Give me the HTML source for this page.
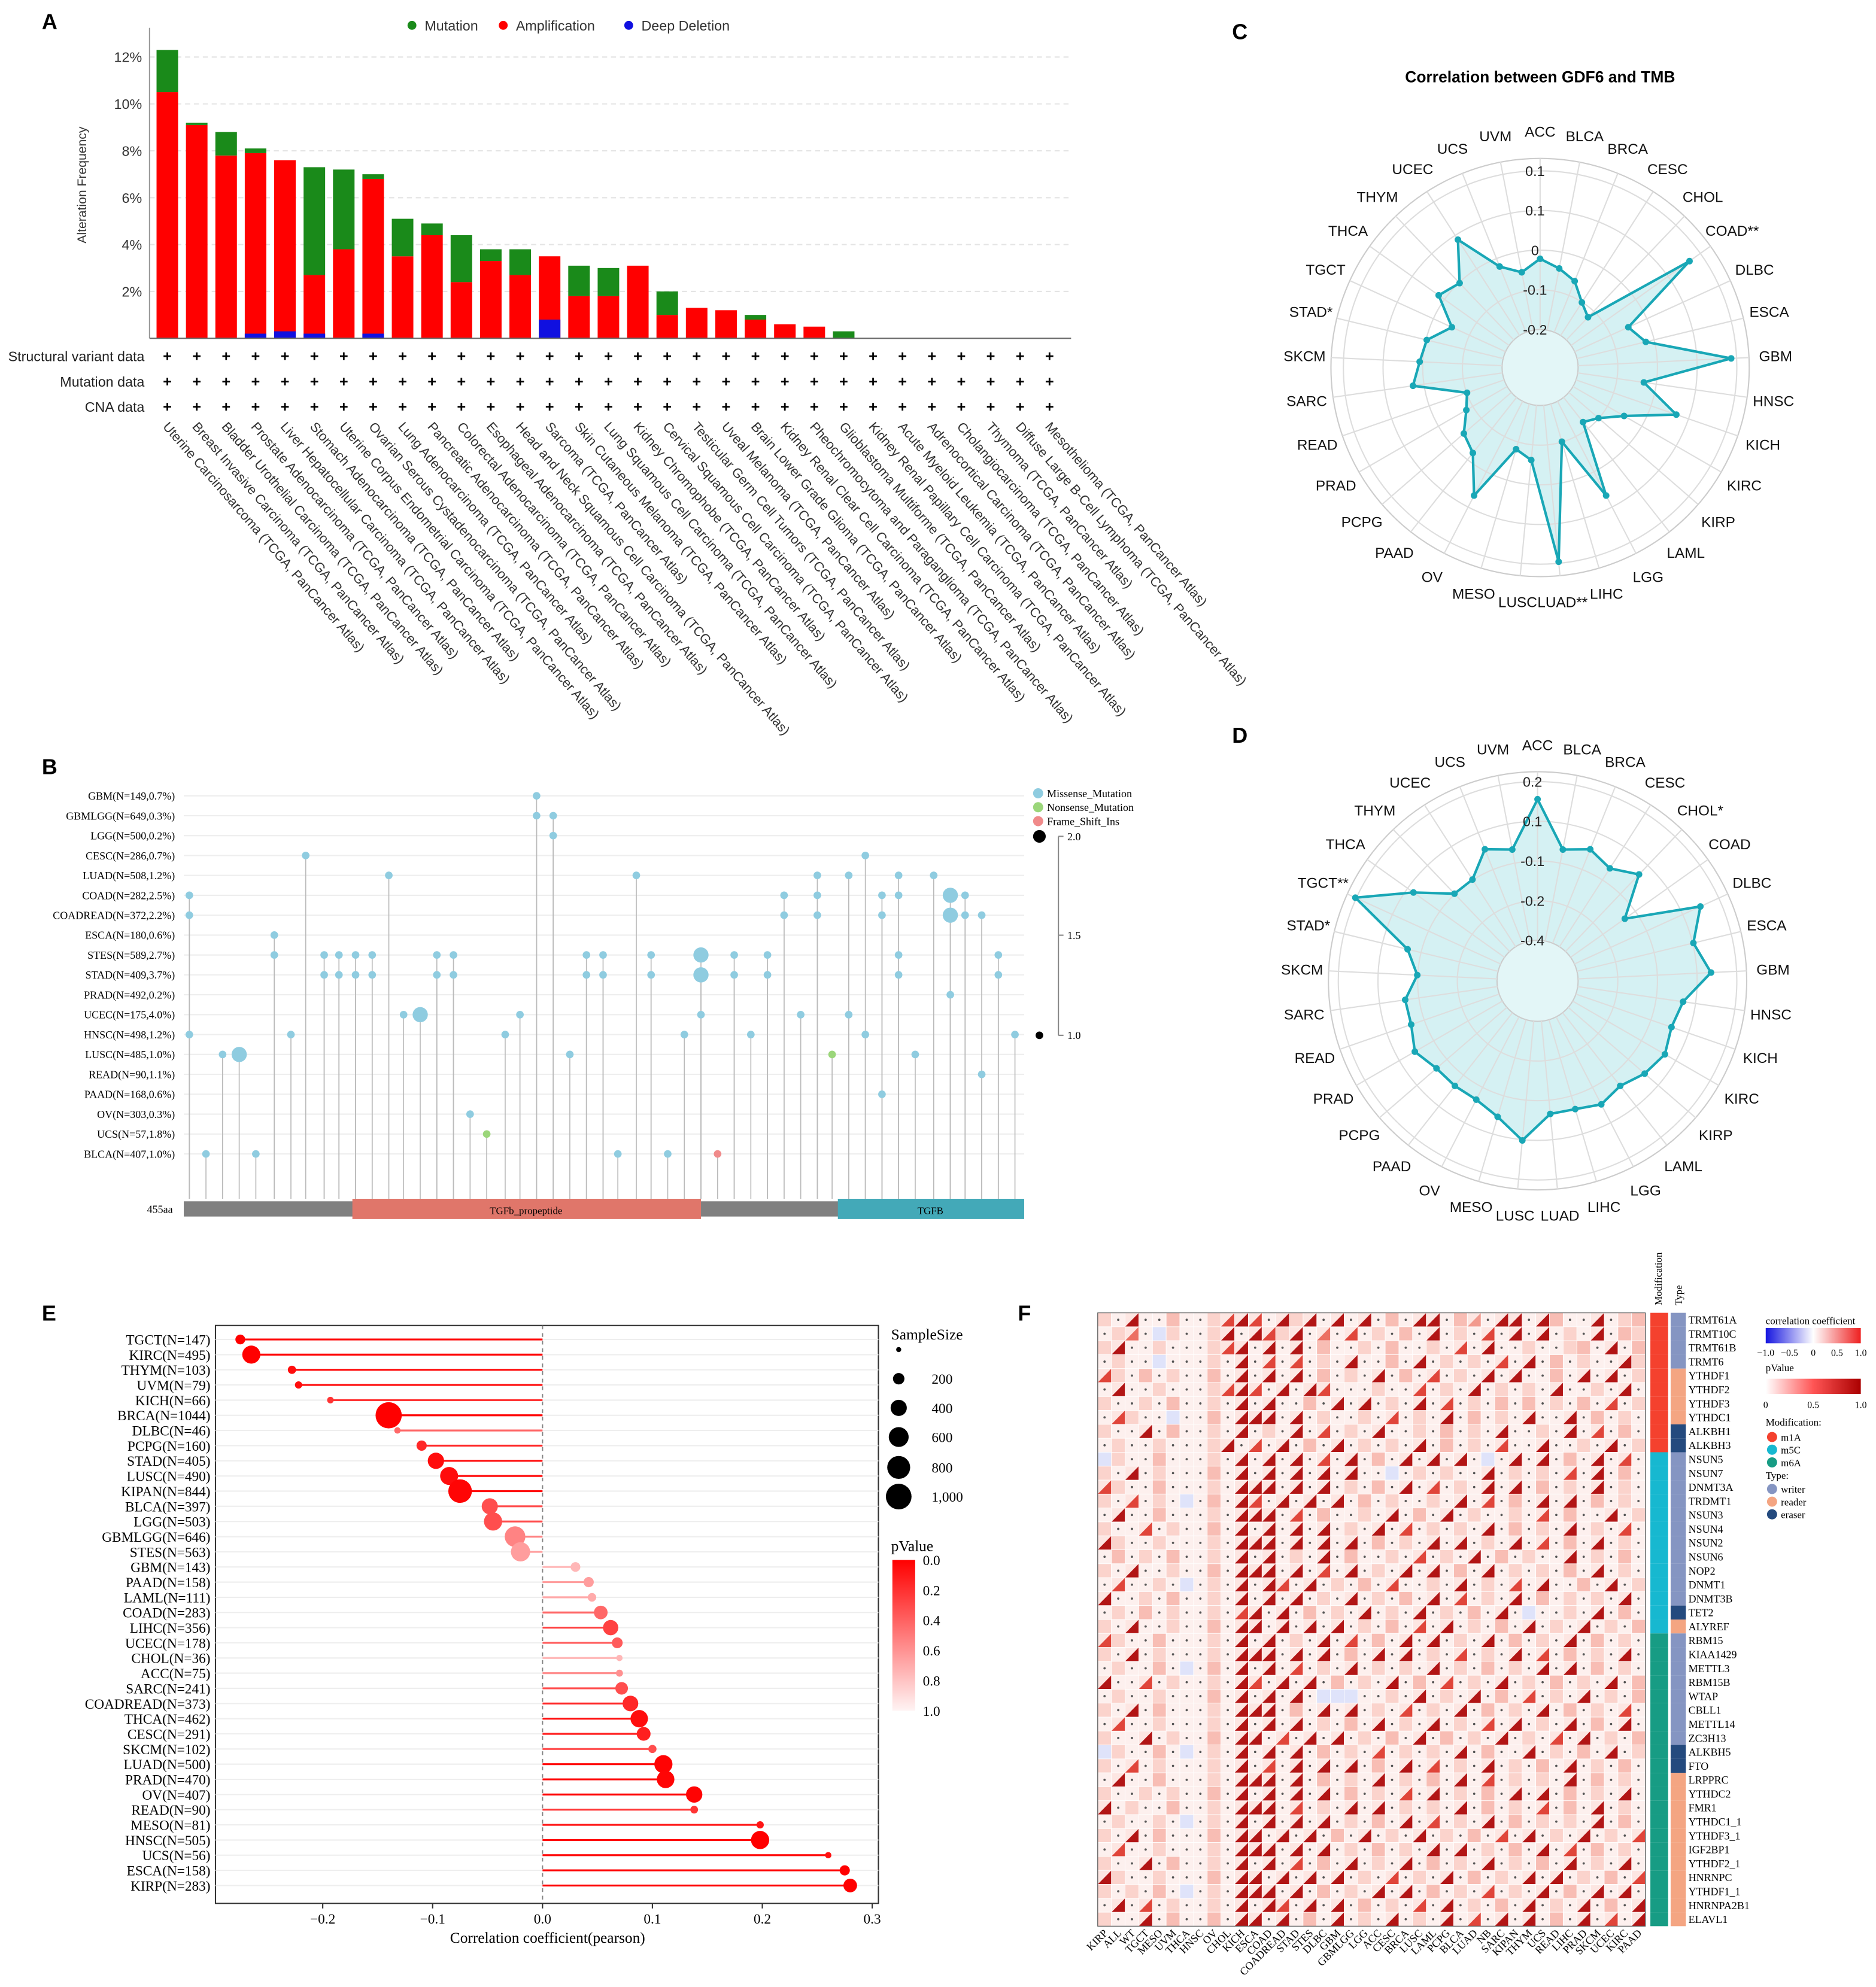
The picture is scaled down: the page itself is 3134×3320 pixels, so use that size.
<!DOCTYPE html>
<html><head><meta charset="utf-8"><style>
html,body{margin:0;padding:0;background:#fff}
svg{display:block}
text{font-family:"Liberation Sans",sans-serif}
.serif{font-family:"Liberation Serif",serif}
</style></head><body>
<svg id="fig" xmlns="http://www.w3.org/2000/svg" width="3134" height="3320" viewBox="0 0 1480 1568" preserveAspectRatio="none">
<g font-weight="bold" font-size="17">
<text x="33" y="23">A</text>
<text x="33" y="611">B</text>
<text x="972" y="31">C</text>
<text x="972" y="586">D</text>
<text x="33" y="1042">E</text>
<text x="803" y="1042">F</text>
</g>
<g id="A"></g><g id="B"></g><g id="C"></g><g id="D"></g><g id="E"></g><g id="F"></g>
</svg>
<script>
// ---------- Panel A data ----------
const aCats=["Uterine Carcinosarcoma","Breast Invasive Carcinoma","Bladder Urothelial Carcinoma","Prostate Adenocarcinoma","Liver Hepatocellular Carcinoma","Stomach Adenocarcinoma","Uterine Corpus Endometrial Carcinoma","Ovarian Serous Cystadenocarcinoma","Lung Adenocarcinoma","Pancreatic Adenocarcinoma","Colorectal Adenocarcinoma","Esophageal Adenocarcinoma","Head and Neck Squamous Cell Carcinoma","Sarcoma","Skin Cutaneous Melanoma","Lung Squamous Cell Carcinoma","Kidney Chromophobe","Cervical Squamous Cell Carcinoma","Testicular Germ Cell Tumors","Uveal Melanoma","Brain Lower Grade Glioma","Kidney Renal Clear Cell Carcinoma","Pheochromocytoma and Paraganglioma","Glioblastoma Multiforme","Kidney Renal Papillary Cell Carcinoma","Acute Myeloid Leukemia","Adrenocortical Carcinoma","Cholangiocarcinoma","Thymoma","Diffuse Large B-Cell Lymphoma","Mesothelioma"];
const aAmp=[10.5,9.1,7.8,7.9,7.6,2.7,3.8,6.8,3.5,4.4,2.4,3.3,2.7,3.5,1.8,1.8,3.1,1.0,1.3,1.2,0.8,0.6,0.5,0,0,0,0,0,0,0,0];
const aMut=[1.8,0.1,1.0,0.2,0,4.6,3.4,0.2,1.6,0.5,2.0,0.5,1.1,0,1.3,1.2,0,1.0,0,0,0.2,0,0,0.3,0,0,0,0,0,0,0];
const aDel=[0,0,0,0.2,0.3,0.2,0,0.2,0,0,0,0,0,0.8,0,0,0,0,0,0,0,0,0,0,0,0,0,0,0,0,0];
const aTicks=[2,4,6,8,10,12];
// ---------- Panel B data ----------
const bRows=["GBM(N=149,0.7%)","GBMLGG(N=649,0.3%)","LGG(N=500,0.2%)","CESC(N=286,0.7%)","LUAD(N=508,1.2%)","COAD(N=282,2.5%)","COADREAD(N=372,2.2%)","ESCA(N=180,0.6%)","STES(N=589,2.7%)","STAD(N=409,3.7%)","PRAD(N=492,0.2%)","UCEC(N=175,4.0%)","HNSC(N=498,1.2%)","LUSC(N=485,1.0%)","READ(N=90,1.1%)","PAAD(N=168,0.6%)","OV(N=303,0.3%)","UCS(N=57,1.8%)","BLCA(N=407,1.0%)"];
const bRowIdx=[0, 1,1, 2, 3,3, 4,4,4,4,4,4, 5,5,5,5,5,5,5, 6,6,6,6,6,6,6, 7,
 8,8,8,8,8,8,8,8,8,8,8,8,8,8,8, 9,9,9,9,9,9,9,9,9,9,9,9,9,9, 10, 11,11,11,11,11,11, 12,12,12,12,12,12,12, 13,13,13,13,13, 14, 15, 16, 17, 18,18,18,18,18];
const bAA=[191, 191,200, 200, 66,369, 111,245,343,360,387,406, 3,325,343,378,387,415,423, 3,325,343,378,415,423,432, 49,
 49,76,84,93,102,137,146,218,227,253,280,298,316,387,441, 76,84,93,102,137,146,218,227,253,280,298,316,387,441, 415, 119,128,182,280,334,360, 3,58,174,271,307,369,450, 21,30,209,351,396, 432, 378, 155, 164, 12,39,235,262,289];
const bCount=[1, 1,1, 1, 1,1, 1,1,1,1,1,1, 1,1,1,1,1,2,1, 1,1,1,1,2,1,1, 1,
 1,1,1,1,1,1,1,1,1,1,2,1,1,1,1, 1,1,1,1,1,1,1,1,1,2,1,1,1,1, 1, 1,2,1,1,1,1, 1,1,1,1,1,1,1, 1,2,1,1,1, 1, 1, 1, 1, 1,1,1,1,1];
const bType=["M", "M","M", "M", "M","M", "M","M","M","M","M","M", "M","M","M","M","M","M","M", "M","M","M","M","M","M","M", "M",
 "M","M","M","M","M","M","M","M","M","M","M","M","M","M","M", "M","M","M","M","M","M","M","M","M","M","M","M","M","M", "M", "M","M","M","M","M","M", "M","M","M","M","M","M","M", "M","M","M","N","M", "M", "M", "M", "N", "M","M","M","M","F"];
// ---------- Panel C / D data ----------
const cCats=["ACC","BLCA","BRCA","CESC","CHOL","COAD**","DLBC","ESCA","GBM","HNSC","KICH","KIRC","KIRP","LAML","LGG","LIHC","LUAD**","LUSC","MESO","OV","PAAD","PCPG","PRAD","READ","SARC","SKCM","STAD*","TGCT","THCA","THYM","UCEC","UCS","UVM"];
const cVals=[-0.02,-0.04,-0.06,-0.1,-0.12,0.17,-0.05,-0.02,0.19,-0.03,0.07,-0.05,-0.1,-0.12,0.07,-0.1,0.2,-0.06,-0.08,0.07,-0.02,-0.04,-0.08,-0.1,0.03,0.01,0.0,-0.05,0.02,0.0,0.09,-0.02,-0.05];
const cTicks=["-0.2","-0.1","0","0.1","0.1"];
const dCats=["ACC","BLCA","BRCA","CESC","CHOL*","COAD","DLBC","ESCA","GBM","HNSC","KICH","KIRC","KIRP","LAML","LGG","LIHC","LUAD","LUSC","MESO","OV","PAAD","PCPG","PRAD","READ","SARC","SKCM","STAD*","TGCT**","THCA","THYM","UCEC","UCS","UVM"];
const dVals=[0.13,-0.05,-0.02,-0.05,0.0,-0.15,0.12,0.05,0.1,0.0,-0.02,0.0,-0.02,-0.05,-0.03,-0.05,-0.05,0.05,-0.02,-0.05,-0.05,-0.05,-0.02,-0.05,-0.05,-0.1,-0.05,0.2,0.02,-0.1,-0.1,-0.02,-0.05];
const dTicks=["-0.4","-0.2","-0.1","0.1","0.2"];
// ---------- Panel E data ----------
const eCats=["TGCT","KIRC","THYM","UVM","KICH","BRCA","DLBC","PCPG","STAD","LUSC","KIPAN","BLCA","LGG","GBMLGG","STES","GBM","PAAD","LAML","COAD","LIHC","UCEC","CHOL","ACC","SARC","COADREAD","THCA","CESC","SKCM","LUAD","PRAD","OV","READ","MESO","HNSC","UCS","ESCA","KIRP"];
const eN=[147,495,103,79,66,1044,46,160,405,490,844,397,503,646,563,143,158,111,283,356,178,36,75,241,373,462,291,102,500,470,407,90,81,505,56,158,283];
const eR=[-0.275,-0.265,-0.228,-0.222,-0.193,-0.14,-0.132,-0.11,-0.097,-0.085,-0.075,-0.048,-0.045,-0.025,-0.02,0.03,0.042,0.045,0.053,0.062,0.068,0.07,0.07,0.072,0.08,0.088,0.092,0.1,0.11,0.112,0.138,0.138,0.198,0.198,0.26,0.275,0.28];
const eP=[0,0,0.05,0.05,0.2,0,0.4,0.15,0.05,0.05,0.02,0.3,0.3,0.5,0.6,0.7,0.6,0.65,0.4,0.25,0.35,0.7,0.55,0.3,0.15,0.05,0.12,0.3,0.01,0.02,0.01,0.2,0.08,0,0.06,0,0];
const eTicks=[-0.2,-0.1,0,0.1,0.2,0.3];
// ---------- Panel F data ----------
const fCols=["KIRP","ALL","WT","TGCT","MESO","UVM","THCA","HNSC","OV","CHOL","KICH","ESCA","COAD","COADREAD","STAD","STES","DLBC","GBM","GBMLGG","LGG","ACC","CESC","BRCA","LUSC","LAML","PCPG","BLCA","LUAD","NB","SARC","KIPAN","THYM","UCS","READ","LIHC","PRAD","SKCM","UCEC","KIRC","PAAD"];
const fRows=["TRMT61A","TRMT10C","TRMT61B","TRMT6","YTHDF1","YTHDF2","YTHDF3","YTHDC1","ALKBH1","ALKBH3","NSUN5","NSUN7","DNMT3A","TRDMT1","NSUN3","NSUN4","NSUN2","NSUN6","NOP2","DNMT1","DNMT3B","TET2","ALYREF","RBM15","KIAA1429","METTL3","RBM15B","WTAP","CBLL1","METTL14","ZC3H13","ALKBH5","FTO","LRPPRC","YTHDC2","FMR1","YTHDC1_1","YTHDF3_1","IGF2BP1","YTHDF2_1","HNRNPC","YTHDF1_1","HNRNPA2B1","ELAVL1"];
const fMod=[0,0,0,0,0,0,0,0,0,0,1,1,1,1,1,1,1,1,1,1,1,1,1,2,2,2,2,2,2,2,2,2,2,2,2,2,2,2,2,2,2,2,2,2];
const fType=[0,0,0,0,1,1,1,1,2,2,0,0,0,0,0,0,0,0,0,0,0,2,1,0,0,0,0,0,0,0,0,2,2,1,1,1,1,1,1,1,1,1,1,1];
const fData=[
"1.9..2..1797.919.9.9.2.99.25.99.92..9.12",
".16.b1..19.9719.6.7.1.2.9.1.7.9.9.1.9.21",
"19..1...179.9.9.2..1.2..1.7.9..1..12.9.2",
".1..b...1.9.7.7.1.9..2.9.1.1.7.9.2.1..91",
"71.2.1..2.9.9.9.2.1.9.2.7.1.9.9..2.9.9.1",
".9..1...1797.9.97...1..7.1.9.1.1.9..1.9.",
"1..1.2..1.9.9..2.9.9.1.9.7.1.2.2.1.2.7.1",
".71..b..2.999.9.1..1.7.1.9.2.1.9..9.2.1.",
"1..9.2..1.9.1.9.7.1.9..1.2.1.9..1.9.7.2.",
".1..1...19.7.9.2.9.1.1.9.2.1.7..9..1.9.1",
"b1..2...1.9.9.9.7.9.2.9.9.9.b.9.9.2.9.7.",
"1.9.1...2.9.9.9.9.9..b.1.1..9.1.1.7.9.2.",
"71..2...1.999.9.9.1.2.9.7.1.9.9.2.1.9.1.",
"1.7.1.b.2.97.9.9.9.2.1..1.9.7.2.9.9.2.1.",
".9..2...1.999.7.2..1.9.2.9.1..1.7.2..9.1",
"1..7.1..2.9.9.9.9.1.9.7.1.1.9.2.1.9.1.7.",
"91..1...1.999.9.9.9.2.1.9.9.1.9.7.2.9.1.",
".2.1.2..1.9.9.1.9.2..1.7.1.9.2.1..9.1.2.",
"1.9..1..2.999.9.7.9.1.9.9.2.9.1.1.2.9.1.",
".7..1.b.1.9.97.9.1.2.7..1.9.1.7.9..2.9.1",
"9..1.2..1.9.9.9.1.9.1.2.9.7.1.9.2.1.1.9.",
".1.2.1..1.79.9.2.1.9.1.9.1.2.9.b..1.9.2.",
"1.9..1..2.99.9.9.9.1.2.7.9.1.2.9.1.9.1.2",
"71..2...1.9.9.1.9.7.2.9.9.1.9.2.1.9.2.1.",
"1.9.1...1.999.9.9.2.9.9.1.7.1.9.7.2.1.9.",
".1..2.b.2.9.9.7.1.9.1.1.9.1.2.1.9.9.2.1.",
"9..7.1..1.97.9.9.2.1.9.2.7.1.9.1.2.1.9.2",
".1..1...2.9.9.9.bbb..1.9.1.9.2.7.1.9.1.2",
"1.9.2...1.999.2.9.9.1.7.1.9.2.1.9.2.1.7.",
".7..1...1.9.9.9.1.2.9.1.9.1.7.9.1.9.2.9.",
"1..9.1..2.99.7.9.9.1.2.9.2.1.9.1.7.9.1.2",
"b1..2.b.1.9.9.9.2.1.7.1.1.9.2..9.1.2.9.1",
"1.7.1...1.9.7.9.9.9.2.9.7.1.9.1.2.9.1.2.",
".9..2...1.999.9.2.1.9.1.2.9.7.1.1.9.2.1.",
"1..1.1..2.9.9.9.9.2.1.7.9.1.2.9.9.2.1.9.",
"9.1..2..1.999.7.1.9.9.1.1.9.2.1.7.2.9.1.",
".1..1.b.1.9.9.9.9.1.2.9.7.1.9.2.1.1.9.2.",
"1.9.2...2.99.9.9.2.9.1.9.1.2.7.9.1.9.1.7",
".7..1...1.999.9.9.1.2.1.9.9.1.2.9.7.2.1.",
"1..9.2..1.9.9.7.2.9.1.9.2.1.9.1.2.9.1.9.",
"91..1...2.99.9.9.9.1.7.1.9.2.1.9.9.1.2.7",
"1.1.2.b.1.999.9.2.1.9.9.2.1.7.1.9.2.9.9.",
".9.7.1..1.9.97.9.9.2.1.7.9.1.2.9.1.9.2.9",
"1..9.2..2.99.9.2.9.1.9.1.9.7.9.9.2.9.7.9"];
</script>
<script>
const NS="http://www.w3.org/2000/svg";
function mk(parent,tag,attrs,txt){const e=document.createElementNS(NS,tag);for(const k in attrs)e.setAttribute(k,attrs[k]);if(txt!==undefined)e.textContent=txt;parent.appendChild(e);return e;}
// ================= A =================
(function(){
const g=document.getElementById('A');
const x0=118,x1=845,base=267;
const xA=i=>132+i*23.2, yA=v=>base-v*18.5;
let t;
aTicks.forEach(v=>{
 const l=mk(g,'line',{x1:x0,x2:x1,y1:yA(v),y2:yA(v),stroke:'#e4e4e4','stroke-dasharray':'4,3'});
 
 t=mk(g,'text',{x:x0-6,y:yA(v)+4,'font-size':11,'text-anchor':'end',fill:'#333'},v+'%');
 
});
t=mk(g,'text',{x:68,y:146,'font-size':10,'text-anchor':'middle',fill:'#333',transform:'rotate(-90 68 146)'},'Alteration Frequency');

aCats.forEach((c,i)=>{
 const cx=xA(i),w=17;
 let r=mk(g,'rect',{x:cx-w/2,y:yA(aAmp[i]),width:w,height:aAmp[i]*18.5,fill:'#ff0000'});
 
 r=mk(g,'rect',{x:cx-w/2,y:yA(aAmp[i]+aMut[i]),width:w,height:aMut[i]*18.5,fill:'#1a8a1a'});
 
 r=mk(g,'rect',{x:cx-w/2,y:yA(aDel[i]),width:w,height:aDel[i]*18.5,fill:'#1010e0'});
 
 [281,301,321].forEach(y=>{t=mk(g,'text',{x:cx,y:y+4,'font-size':12,'font-weight':'bold','text-anchor':'middle'},'+');
  });
 t=mk(g,'text',{x:cx-4,y:337,'font-size':10.5,fill:'#333',transform:`rotate(49 ${cx-4} 337)`},c+' (TCGA, PanCancer Atlas)');
 
});
let l=mk(g,'line',{x1:x0,x2:x0,y1:22,y2:base,stroke:'#999'});
l=mk(g,'line',{x1:x0,x2:x1,y1:base,y2:base,stroke:'#666'});
[['Structural variant data',281],['Mutation data',301],['CNA data',321]].forEach(([s,y])=>{t=mk(g,'text',{x:114,y:y+4,'font-size':11,'text-anchor':'end',fill:'#222'},s);});
[['Mutation','#1a8a1a',325],['Amplification','#ff0000',397],['Deep Deletion','#1010e0',496]].forEach(([s,c,x])=>{
 const gg=mk(g,'g',{});
 mk(gg,'circle',{cx:x,cy:20,r:3.5,fill:c});mk(gg,'text',{x:x+10,y:24,'font-size':11,fill:'#333'},s);});
})();
// ================= B =================
(function(){
const g=document.getElementById('B');
const xB=aa=>145+aa*(663/455), yB=i=>628+i*15.7;
let t,l;
bRows.forEach((s,i)=>{
 l=mk(g,'line',{x1:145,x2:808,y1:yB(i),y2:yB(i),stroke:'#eee'});
 t=mk(g,'text',{x:138,y:yB(i)+3,'font-size':8.5,'text-anchor':'end',class:'serif'},s);
});
const col={M:'#8fcce0',N:'#9bd67a',F:'#f08a8a'};
bAA.forEach((aa,k)=>{
 const x=xB(aa),y=yB(bRowIdx[k]);
 l=mk(g,'path',{d:`M${x},${y} L${x},926 L${x},946`,stroke:'#bbb','stroke-width':0.8,fill:'none'});
 const c=mk(g,'circle',{cx:x,cy:y,r:bCount[k]>1?6:3,fill:col[bType[k]]});
});
let r=mk(g,'rect',{x:145,y:948,width:663,height:12,fill:'#808080'});
r=mk(g,'rect',{x:278,y:946,width:275,height:16,fill:'#e0766a'});
r=mk(g,'rect',{x:661,y:946,width:147,height:16,fill:'#43a9b8'});
t=mk(g,'text',{x:415,y:958,'font-size':8,'text-anchor':'middle',class:'serif'},'TGFb_propeptide');
t=mk(g,'text',{x:734,y:958,'font-size':8,'text-anchor':'middle',class:'serif'},'TGFB');
t=mk(g,'text',{x:116,y:957,'font-size':8.5,class:'serif'},'455aa');
[['Missense_Mutation','#8fcce0',626],['Nonsense_Mutation','#9bd67a',637],['Frame_Shift_Ins','#f08a8a',648]].forEach(([s,c,y])=>{
 const gg=mk(g,'g',{});
 mk(gg,'circle',{cx:819,cy:y,r:4,fill:c});mk(gg,'text',{x:826,y:y+3,'font-size':8.5,class:'serif'},s);});
l=mk(g,'line',{x1:835,x2:835,y1:660,y2:817,stroke:'#888'});
[['2.0',660,5],['1.5',738,0],['1.0',817,3]].forEach(([s,y,rr])=>{
 if(rr){const c=mk(g,'circle',{cx:820,cy:y,r:rr,fill:'#000'});}
 mk(g,'line',{x1:835,x2:839,y1:y,y2:y,stroke:'#888'});
 t=mk(g,'text',{x:842,y:y+3,'font-size':8.5,class:'serif'},s);});
})();
// ================= C & D =================
function radar(gid,cx,cy,cats,vals,ticks,r0,scale,vmin,title){
 const g=document.getElementById(gid);
 const n=cats.length, R=165;
 const rv=v=>r0+(v-vmin)*scale;
 const ang=i=>-Math.PI/2+i*2*Math.PI/n;
 let t,l;
 let c=mk(g,'circle',{cx,cy,r:R,fill:'#fff',stroke:'#ccc'});
 const pts=vals.map((v,i)=>[cx+rv(v)*Math.cos(ang(i)),cy+rv(v)*Math.sin(ang(i))]);
 const p=mk(g,'polygon',{points:pts.map(q=>q.join(',')).join(' '),fill:'#d5f1f3',stroke:'none'});
 c=mk(g,'circle',{cx,cy,r:r0,fill:'#e3f6f7',stroke:'#ccc'});
 for(let k=1;k<ticks.length;k++){c=mk(g,'circle',{cx,cy,r:r0+k*31.3,fill:'none',stroke:'#ddd'});}
 cats.forEach((s,i)=>{
  const a=ang(i);
  l=mk(g,'line',{x1:cx+r0*Math.cos(a),y1:cy+r0*Math.sin(a),x2:cx+R*Math.cos(a),y2:cy+R*Math.sin(a),stroke:'#ddd'});
  t=mk(g,'text',{x:cx+186*Math.cos(a),y:cy+186*Math.sin(a)+4,'font-size':11.5,'text-anchor':'middle',fill:'#111'},s);
 });
 const pl=mk(g,'polygon',{points:pts.map(q=>q.join(',')).join(' '),fill:'none',stroke:'#19a7b6','stroke-width':2});
 pts.forEach(q=>{c=mk(g,'circle',{cx:q[0],cy:q[1],r:2.6,fill:'#19a7b6'});});
 ticks.forEach((s,k)=>{t=mk(g,'text',{x:cx-4,y:cy-(r0+k*31.3)+4,'font-size':11,'text-anchor':'middle',fill:'#222'},s);});
 if(title){t=mk(g,'text',{x:cx,y:65,'font-size':12.5,'font-weight':'bold','text-anchor':'middle'},title);}
}
radar('C',1215,290,cCats,cVals,cTicks,30,310,-0.2,'Correlation between GDF6 and TMB');
radar('D',1213,774,dCats,dVals,dTicks,32,210,-0.4,null);
// ================= E =================
(function(){
const g=document.getElementById('E');
const xE=v=>428+v*867, yE=i=>1057+i*11.97;
let t,l;
let r=mk(g,'rect',{x:170,y:1046,width:523,height:456,fill:'none',stroke:'#333'});
const pc=p=>{const k=Math.min(1,p/0.9);const gb=Math.round(0+k*235);return `rgb(255,${gb},${gb})`;};
eCats.forEach((s,i)=>{
 const y=yE(i);
 l=mk(g,'line',{x1:170,x2:693,y1:y,y2:y,stroke:'#eee'});
 l=mk(g,'line',{x1:xE(0),x2:xE(eR[i]),y1:y,y2:y,stroke:pc(eP[i]),'stroke-width':1.5});
 const c=mk(g,'circle',{cx:xE(eR[i]),cy:y,r:Math.max(2.5,0.32*Math.sqrt(eN[i])),fill:pc(eP[i])});
 t=mk(g,'text',{x:166,y:y+4,'font-size':11,'text-anchor':'end',class:'serif'},`${s}(N=${eN[i]})`);
});
l=mk(g,'line',{x1:xE(0),x2:xE(0),y1:1046,y2:1502,stroke:'#888','stroke-dasharray':'3,3'});
eTicks.forEach(v=>{mk(g,'line',{x1:xE(v),x2:xE(v),y1:1502,y2:1506,stroke:'#333'});
 t=mk(g,'text',{x:xE(v),y:1518,'font-size':11,'text-anchor':'middle',class:'serif'},v===0?'0.0':String(v).replace('-','−'));});
t=mk(g,'text',{x:432,y:1533,'font-size':12,'text-anchor':'middle',class:'serif'},'Correlation coefficient(pearson)');
t=mk(g,'text',{x:703,y:1057,'font-size':12,class:'serif'},'SampleSize');
[[0,1065],[200,1088],[400,1111],[600,1134],[800,1158],[1000,1181]].forEach(([n,y])=>{
 const c=mk(g,'circle',{cx:709,cy:y,r:Math.max(2,0.32*Math.sqrt(n)),fill:'#000'});
 if(n){t=mk(g,'text',{x:735,y:y+4,'font-size':11,class:'serif'},n===1000?'1,000':n);}});
t=mk(g,'text',{x:703,y:1224,'font-size':12,class:'serif'},'pValue');
const defs=mk(g,'defs',{});const lg=mk(defs,'linearGradient',{id:'pg',x1:0,y1:0,x2:0,y2:1});
mk(lg,'stop',{offset:0,'stop-color':'#ff0000'});mk(lg,'stop',{offset:1,'stop-color':'#fff4f4'});
r=mk(g,'rect',{x:704,y:1231,width:18,height:119,fill:'url(#pg)'});
['0.0','0.2','0.4','0.6','0.8','1.0'].forEach((s,k)=>{t=mk(g,'text',{x:728,y:1235+k*23.8,'font-size':11,class:'serif'},s);});
})();
// ================= F =================
(function(){
const g=document.getElementById('F');
const x0=866,y0=1036,cw=10.8,ch=11;
let t,r;
r=mk(g,'rect',{x:x0,y:y0,width:fCols.length*cw,height:fRows.length*ch,fill:'#fde9e6'});
const shade={'5':'#f29a8e','6':'#ec6f62','7':'#e0453a','8':'#c81e1e','9':'#b21515'};
fRows.forEach((rn,i)=>{
 const s=(fData[i]+'.'.repeat(40)).slice(0,40);
 for(let j=0;j<40;j++){
  const ch_=s[j],x=x0+j*cw,y=y0+i*ch;
  let fill='#fde6e2';
  if(ch_==='1')fill='#fbd3cc';if(ch_==='2')fill='#f8bdb4';if(ch_==='b')fill='#dfe3fa';
  if(ch_==='.')fill='#fdf0ee';
  const cell=mk(g,'rect',{x,y,width:cw,height:ch,fill,stroke:'#fff','stroke-width':0.4});
  
  if(shade[ch_]){const tr=mk(g,'polygon',{points:`${x+cw},${y} ${x+cw},${y+ch} ${x},${y+ch}`,fill:shade[ch_]});}
  if(ch_==='.'){const d=mk(g,'circle',{cx:x+cw/2,cy:y+ch/2,r:0.9,fill:'#555'});}
 }
 const mc=['#f4412e','#17b8d0','#179c84'][fMod[i]];
 r=mk(g,'rect',{x:1302,y:y0+i*ch,width:14,height:ch,fill:mc});
 const tc=['#8595c2','#f4a582','#244a7e'][fType[i]];
 r=mk(g,'rect',{x:1318,y:y0+i*ch,width:12,height:ch,fill:tc});
 t=mk(g,'text',{x:1332,y:y0+i*ch+8.5,'font-size':8.5,class:'serif'},rn);
});
fCols.forEach((c,j)=>{const x=x0+j*cw+cw/2+3,y=y0+fRows.length*ch+6;
 t=mk(g,'text',{x,y,'font-size':8.5,'text-anchor':'end',class:'serif',transform:`rotate(-45 ${x} ${y})`},c);});
r=mk(g,'rect',{x:x0,y:y0,width:fCols.length*cw,height:fRows.length*ch,fill:'none',stroke:'#555','stroke-width':0.6});
t=mk(g,'text',{x:1311,y:1030,'font-size':8,class:'serif',transform:'rotate(-90 1311 1030)'},'Modification');
t=mk(g,'text',{x:1327,y:1030,'font-size':8,class:'serif',transform:'rotate(-90 1327 1030)'},'Type');
const defs=mk(g,'defs',{});
let lg=mk(defs,'linearGradient',{id:'cg'});mk(lg,'stop',{offset:0,'stop-color':'#1515e0'});mk(lg,'stop',{offset:0.5,'stop-color':'#ffffff'});mk(lg,'stop',{offset:1,'stop-color':'#ee2020'});
lg=mk(defs,'linearGradient',{id:'pg2'});mk(lg,'stop',{offset:0,'stop-color':'#ffffff'});mk(lg,'stop',{offset:0.5,'stop-color':'#f55'});mk(lg,'stop',{offset:1,'stop-color':'#a00'});
t=mk(g,'text',{x:1393,y:1045,'font-size':8,class:'serif'},'correlation coefficient');
r=mk(g,'rect',{x:1393,y:1048,width:75,height:12,fill:'url(#cg)'});
['−1.0','−0.5','0','0.5','1.0'].forEach((s,k)=>{t=mk(g,'text',{x:1393+k*18.75,y:1070,'font-size':7.5,'text-anchor':'middle',class:'serif'},s);});
t=mk(g,'text',{x:1393,y:1082,'font-size':8,class:'serif'},'pValue');
r=mk(g,'rect',{x:1393,y:1088,width:75,height:12,fill:'url(#pg2)'});
['0','0.5','1.0'].forEach((s,k)=>{t=mk(g,'text',{x:1393+k*37.5,y:1111,'font-size':7.5,'text-anchor':'middle',class:'serif'},s);});
t=mk(g,'text',{x:1393,y:1125,'font-size':8,class:'serif'},'Modification:');
[['m1A','#f4412e',1134],['m5C','#17b8d0',1144],['m6A','#179c84',1154]].forEach(([s,c,y])=>{const gg=mk(g,'g',{});
 mk(gg,'circle',{cx:1398,cy:y,r:4,fill:c});mk(gg,'text',{x:1405,y:y+3,'font-size':8,class:'serif'},s);});
t=mk(g,'text',{x:1393,y:1167,'font-size':8,class:'serif'},'Type:');
[['writer','#8595c2',1175],['reader','#f4a582',1185],['eraser','#244a7e',1195]].forEach(([s,c,y])=>{const gg=mk(g,'g',{});
 mk(gg,'circle',{cx:1398,cy:y,r:4,fill:c});mk(gg,'text',{x:1405,y:y+3,'font-size':8,class:'serif'},s);});
})();
</script>
</body></html>
